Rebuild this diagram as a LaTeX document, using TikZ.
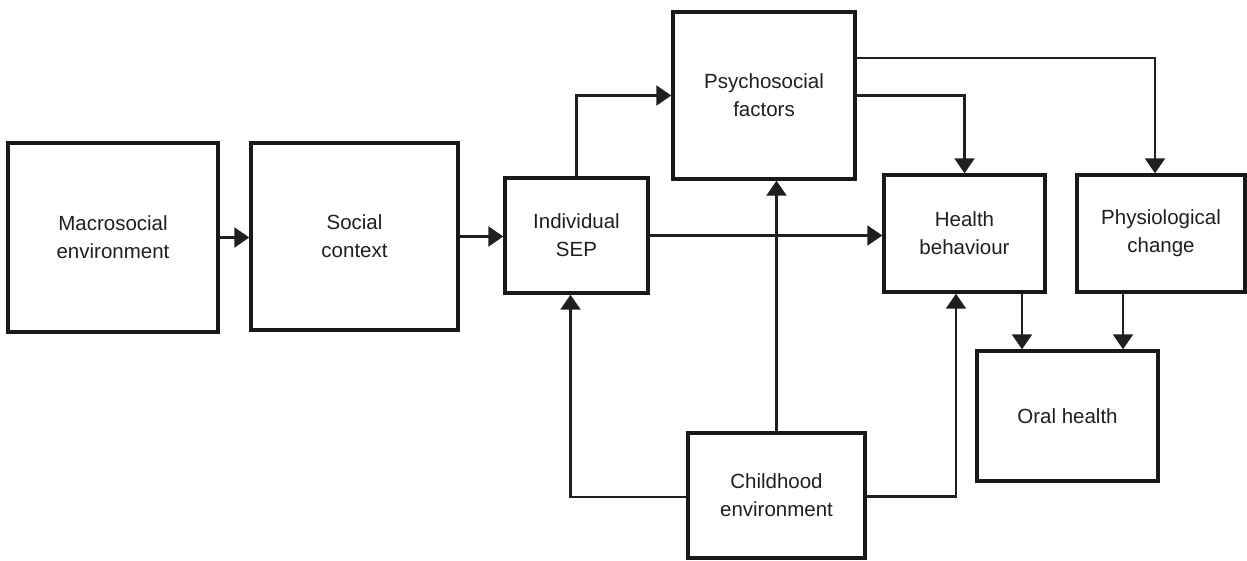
\documentclass[tikz,border=0pt]{standalone}
\usepackage{fontspec}
\setmainfont{Liberation Sans}
\usetikzlibrary{arrows.meta,calc}
\begin{document}
\begin{tikzpicture}[x=1pt,y=-1pt,
  box/.style={draw=black!90, line width=3.4pt, fill=white, align=center,
    inner sep=0pt, font=\fontsize{20.5}{28}\selectfont, text=black!88},
  link/.style={draw=black!88, line width=2.2pt,
    -{Triangle[length=15pt,width=20pt]}}]
\useasboundingbox (0,0) rectangle (1247,560);
\fill[white] (0,0) rectangle (1247,560);

% boxes
\node[box, minimum width=210pt, minimum height=189pt] (macro)  at (113,237.5) {Macrosocial\\environment};
\node[box, minimum width=207pt, minimum height=187pt] (social) at (354.5,236.5) {Social\\context};
\node[box, minimum width=143pt, minimum height=115pt] (sep)    at (576.5,235.5) {Individual\\SEP};
\node[box, minimum width=182pt, minimum height=167pt] (psycho) at (764,95.5) {Psychosocial\\factors};
\node[box, minimum width=161pt, minimum height=117pt] (health) at (964.5,233.5) {Health\\behaviour};
\node[box, minimum width=168pt, minimum height=117pt] (physio) at (1161,233.5) {Physiological\\change};
\node[box, minimum width=181pt, minimum height=130pt] (oral)   at (1067.5,416) {Oral health};
\node[box, minimum width=177pt, minimum height=125pt] (child)  at (776.5,495.5) {Childhood\\environment};

% connectors
\draw[link] (macro.east) -- (macro.east -| social.west);
\draw[link] (social.east) -- (social.east -| sep.west);
\draw[link] (sep.north) |- (psycho.west);
\draw[link] (sep.east) -- (sep.east -| health.west);
\draw[link] (psycho.east) -| (health.north);
\draw[link] ([yshift=37.5pt]psycho.east) -| ([xshift=-6pt]physio.north);
\draw[link] ([xshift=57.5pt]health.south) -- ([xshift=57.5pt]health.south |- oral.north);
\draw[link] ([xshift=-38pt]physio.south) -- ([xshift=-38pt]physio.south |- oral.north);
\draw[link] ([yshift=-1.5pt]child.west) -| ([xshift=-6pt]sep.south);
\draw[link] ([yshift=-1pt]child.east) -| ([xshift=-8.5pt]health.south);
\draw[link] (child.north) -- (child.north |- psycho.south);
\end{tikzpicture}
\end{document}
